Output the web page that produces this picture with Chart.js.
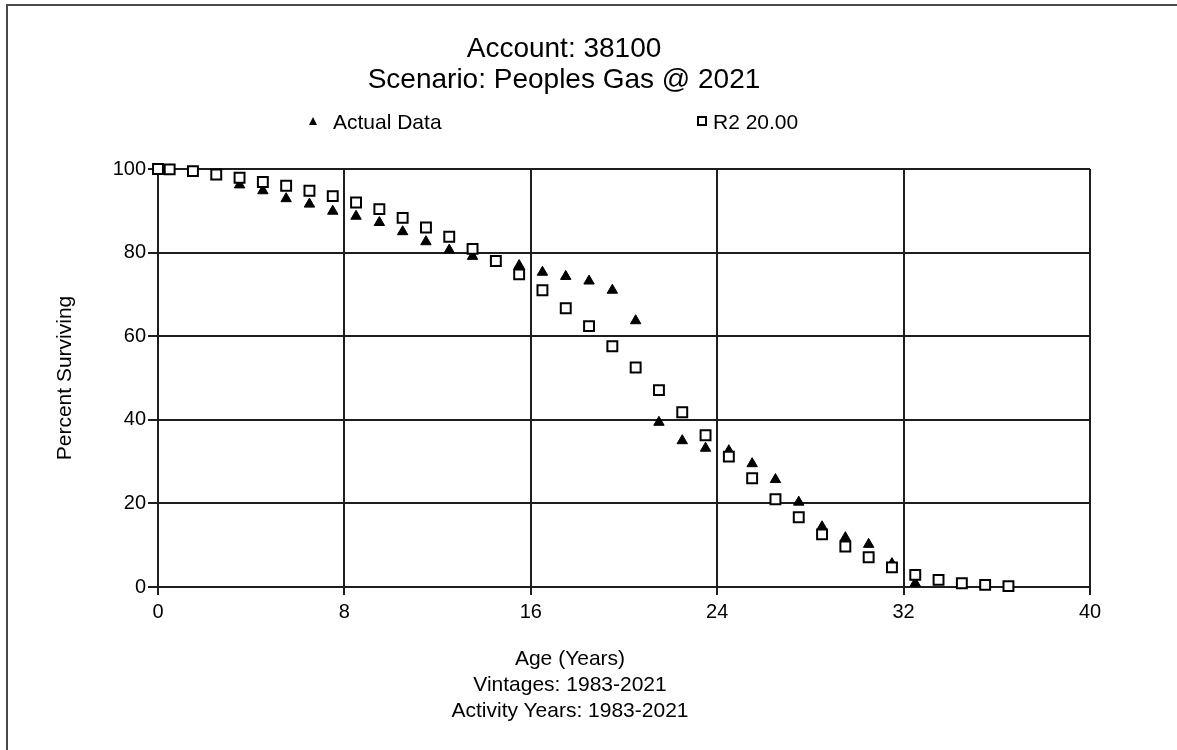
<!DOCTYPE html>
<html>
<head>
<meta charset="utf-8">
<script src="https://cdn.jsdelivr.net/npm/chart.js@4.4.0/dist/chart.umd.min.js"></script>
<style>
    html, body { margin: 0; padding: 0; background: #fff; }
    body { width: 1177px; height: 750px; position: relative; overflow: hidden;
           font-family: "Liberation Sans", Arial, sans-serif; color: #000; }
    #frame { position: absolute; left: 6px; top: 4px; width: 1300px; height: 900px;
             border-top: 2px solid #4a4a4a; border-left: 2px solid #4a4a4a; }
    #chartBox { position: absolute; left: 0; top: 0; width: 1177px; height: 750px; }
    .title { position: absolute; left: 0; top: 32px; width: 1128px; text-align: center;
             font-size: 28px; line-height: 31px; }
    .legend-text { position: absolute; top: 110px; font-size: 21px; line-height: 24px; white-space: nowrap; }
    .tri { position: absolute; left: 309px; top: 117px; width: 0; height: 0;
           border-left: 4.5px solid transparent; border-right: 4.5px solid transparent;
           border-bottom: 8px solid #000; }
    .sq { position: absolute; left: 697px; top: 116px; width: 10px; height: 10px;
          box-sizing: border-box; border: 2px solid #000; background: #fff; }
    .xtitle { position: absolute; left: 0; top: 645px; width: 1140px; text-align: center;
              font-size: 21px; line-height: 26px; }
</style>
</head>
<body>
<div id="frame"></div>
<div id="chartBox"><canvas id="survivalChart" width="1177" height="750"></canvas></div>
<div class="title">Account: 38100<br>Scenario: Peoples Gas @ 2021</div>
<div class="tri"></div>
<div class="legend-text" style="left:333px">Actual Data</div>
<div class="sq"></div>
<div class="legend-text" style="left:713px">R2 20.00</div>
<div class="xtitle">Age (Years)<br>Vintages: 1983-2021<br>Activity Years: 1983-2021</div>

<script>
// Ages (years) where each series has a point
const actualAges = [0, 0.5, 1.5, 2.5, 3.5, 4.5, 5.5, 6.5, 7.5, 8.5, 9.5, 10.5, 11.5, 12.5,
    13.5, 14.5, 15.5, 16.5, 17.5, 18.5, 19.5, 20.5, 21.5, 22.5, 23.5, 24.5, 25.5, 26.5,
    27.5, 28.5, 29.5, 30.5, 31.5, 32.5];
const actualPct = [100, 99.8, 99.3, 98.2, 96.2, 94.8, 92.9, 91.6, 89.9, 88.7, 87.2, 85.0,
    82.6, 80.6, 79.1, 77.9, 76.9, 75.3, 74.3, 73.2, 71.0, 63.7, 39.4, 35.0, 33.2, 32.6,
    29.5, 25.7, 20.3, 14.4, 11.8, 10.2, 5.6, 0.9];

const curveAges = [0, 0.5, 1.5, 2.5, 3.5, 4.5, 5.5, 6.5, 7.5, 8.5, 9.5, 10.5, 11.5, 12.5,
    13.5, 14.5, 15.5, 16.5, 17.5, 18.5, 19.5, 20.5, 21.5, 22.5, 23.5, 24.5, 25.5, 26.5,
    27.5, 28.5, 29.5, 30.5, 31.5, 32.5, 33.5, 34.5, 35.5, 36.5];
const curvePct = [100, 99.9, 99.5, 98.7, 97.9, 96.9, 96.0, 94.8, 93.5, 92.0, 90.4, 88.3,
    86.0, 83.8, 80.9, 78.0, 74.8, 71.0, 66.7, 62.4, 57.6, 52.5, 47.1, 41.8, 36.3, 31.2,
    26.0, 21.0, 16.7, 12.6, 9.7, 7.1, 4.7, 2.9, 1.7, 0.9, 0.5, 0.2];

const xTicks = [0, 8, 16, 24, 32, 40];
const yTicks = [0, 20, 40, 60, 80, 100];

const toPoints = (xs, ys) => xs.map((x, i) => ({ x: x, y: ys[i] }));

const lineColor = '#1e1e1e';
const tickFont = { family: '"Liberation Sans", Arial, sans-serif', size: 20 };

new Chart(document.getElementById('survivalChart'), {
    type: 'scatter',
    data: {
        datasets: [
            {
                label: 'Actual Data',
                data: toPoints(actualAges, actualPct),
                pointStyle: 'triangle',
                pointRadius: 6,
                backgroundColor: '#000',
                borderColor: '#000',
                borderWidth: 1,
                order: 2,
                clip: false
            },
            {
                label: 'R2 20.00',
                data: toPoints(curveAges, curvePct),
                pointStyle: 'rect',
                pointRadius: 7,
                backgroundColor: '#fff',
                borderColor: '#000',
                borderWidth: 2,
                order: 1,
                clip: false
            }
        ]
    },
    options: {
        responsive: false,
        animation: false,
        layout: { padding: { top: 169, right: 87, bottom: 123, left: 0 } },
        plugins: {
            legend: { display: false },
            title: { display: false },
            tooltip: { enabled: false }
        },
        scales: {
            x: {
                type: 'linear',
                min: 0,
                max: 40,
                afterBuildTicks: (scale) => { scale.ticks = xTicks.map(v => ({ value: v })); },
                afterFit: (scale) => { scale.height = 40; },
                grid: { color: lineColor, lineWidth: 2, tickLength: 8 },
                border: { color: lineColor, width: 2 },
                ticks: { color: '#000', font: tickFont, padding: 5, maxRotation: 0 }
            },
            y: {
                type: 'linear',
                min: 0,
                max: 100,
                afterBuildTicks: (scale) => { scale.ticks = yTicks.map(v => ({ value: v })); },
                afterFit: (scale) => { scale.width = 158; },
                grid: { color: lineColor, lineWidth: 2, tickLength: 10 },
                border: { color: lineColor, width: 2 },
                ticks: { color: '#000', font: tickFont, padding: 2 },
                title: {
                    display: true,
                    text: 'Percent Surviving',
                    color: '#000',
                    font: { family: '"Liberation Sans", Arial, sans-serif', size: 21 },
                    padding: { top: 53, bottom: 0 }
                }
            }
        }
    }
});
</script>
</body>
</html>
